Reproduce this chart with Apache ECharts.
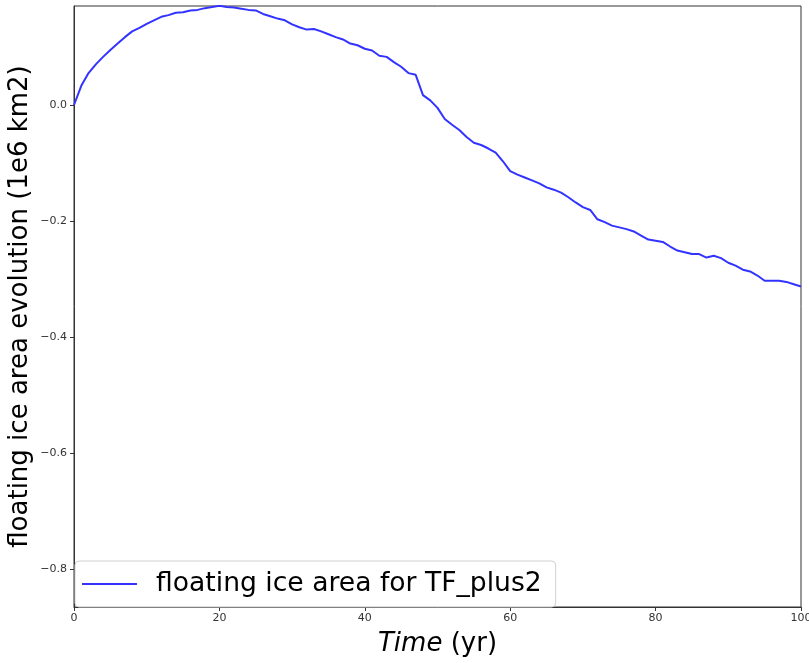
<!DOCTYPE html>
<html>
<head>
<meta charset="utf-8">
<script src="https://cdn.jsdelivr.net/npm/echarts@6/dist/echarts.min.js"></script>
<style>html,body{margin:0;padding:0;background:#fff;}#c{width:809px;height:663px;}</style>
</head>
<body>
<div id="c"></div>
<script>
const years = [];
for (let i = 0; i <= 100; i++) years.push(i);
const areaTFplus2 = [
  0.000, 0.033, 0.055, 0.070, 0.083, 0.095, 0.106, 0.117, 0.127, 0.133,
  0.140, 0.146, 0.152, 0.155, 0.159, 0.160, 0.163, 0.164, 0.167, 0.169,
  0.171, 0.169, 0.168, 0.166, 0.164, 0.163, 0.157, 0.153, 0.149, 0.146,
  0.139, 0.134, 0.130, 0.131, 0.127, 0.122, 0.117, 0.113, 0.106, 0.103,
  0.097, 0.094, 0.085, 0.083, 0.074, 0.066, 0.055, 0.052, 0.017, 0.008,
  -0.005, -0.024, -0.034, -0.043, -0.055, -0.065, -0.069, -0.075, -0.082, -0.097,
  -0.114, -0.120, -0.125, -0.130, -0.135, -0.142, -0.146, -0.151, -0.159, -0.168,
  -0.176, -0.181, -0.197, -0.202, -0.208, -0.211, -0.214, -0.218, -0.225, -0.232,
  -0.234, -0.236, -0.244, -0.251, -0.254, -0.257, -0.257, -0.263, -0.260, -0.264,
  -0.272, -0.277, -0.284, -0.287, -0.294, -0.303, -0.303, -0.303, -0.305, -0.309,
  -0.313
];
const xTicks = [0, 20, 40, 60, 80, 100];
const yTicks = [-0.8, -0.6, -0.4, -0.2, 0.0];
const seriesName = 'floating ice area for TF_plus2';

const font = 'DejaVu Sans';
const lineColor = '#3333ff';
const chart = echarts.init(document.getElementById('c'), null, {renderer: 'canvas'});
chart.setOption({
  animation: false,
  backgroundColor: '#fff',
  grid: {left: 74, right: 8, top: 6, bottom: 56, show: true, borderColor: '#333', borderWidth: 1,
    containLabel: false, outerBoundsMode: 'none'},
  legend: {
    left: 75, top: 561,
    data: [{name: seriesName, icon: 'rect'}],
    itemWidth: 55, itemHeight: 2, itemGap: 10,
    padding: [8, 14, 8, 7],
    borderColor: '#d0d0d0', borderWidth: 1, borderRadius: 4,
    backgroundColor: 'rgba(255,255,255,0.8)',
    itemStyle: {color: lineColor},
    textStyle: {fontFamily: font, fontSize: 26.6, color: '#000', padding: [0, 0, 0, 14], lineHeight: 30}
  },
  xAxis: {
    type: 'value', min: 0, max: 100,
    name: '{i|Time} (yr)', nameLocation: 'middle', nameGap: 24, nameMoveOverlap: false,
    nameTextStyle: {fontFamily: font, fontSize: 26, color: '#000', verticalAlign: 'top',
      rich: {i: {fontFamily: font, fontSize: 26, fontStyle: 'italic', color: '#000'}}},
    axisLine: {show: true, onZero: false, lineStyle: {color: '#333', width: 1}},
    axisTick: {show: true, inside: false, length: 4, lineStyle: {color: '#333'}, customValues: xTicks},
    axisLabel: {fontFamily: font, fontSize: 11, color: '#333', margin: 6, customValues: xTicks,
      formatter: v => String(v)},
    splitLine: {show: false}
  },
  yAxis: {
    type: 'value', min: -0.8655, max: 0.1707,
    name: 'floating ice area evolution (1e6 km2)', nameLocation: 'middle', nameGap: 41, nameRotate: 90,
    nameMoveOverlap: false,
    nameTextStyle: {fontFamily: font, fontSize: 26, color: '#000'},
    axisLine: {show: true, onZero: false, lineStyle: {color: '#333', width: 1}},
    axisTick: {show: true, inside: false, length: 4, lineStyle: {color: '#333'}, customValues: yTicks},
    axisLabel: {fontFamily: font, fontSize: 11, color: '#333', margin: 7, customValues: yTicks,
      formatter: v => (v < 0 ? '\u2212' : '') + Math.abs(v).toFixed(1)},
    splitLine: {show: false}
  },
  series: [{
    name: seriesName,
    type: 'line',
    data: years.map((y, i) => [y, areaTFplus2[i]]),
    showSymbol: false,
    symbol: 'none',
    lineStyle: {color: lineColor, width: 2},
    itemStyle: {color: lineColor}
  }]
});
</script>
</body>
</html>
